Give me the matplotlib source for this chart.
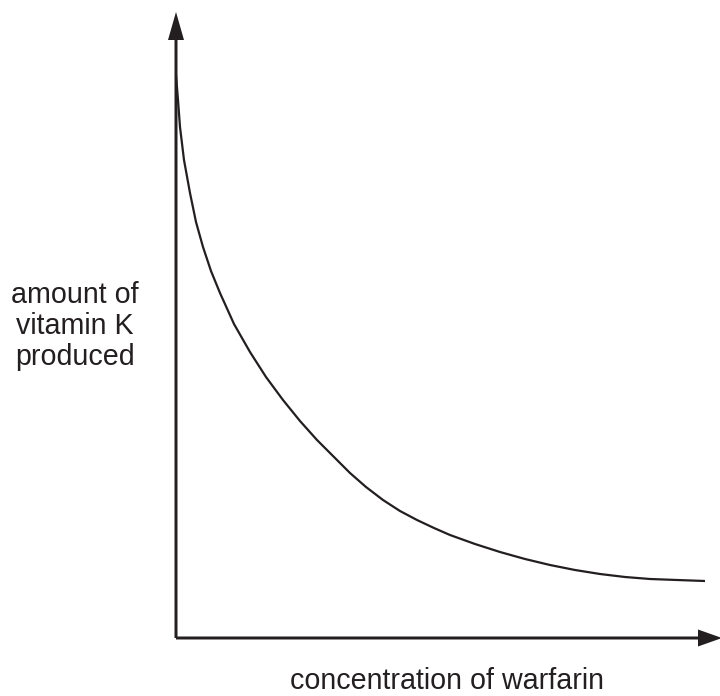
import matplotlib
matplotlib.use("Agg")
import matplotlib.pyplot as plt

# Data (arbitrary units)
warfarin = [0, 2, 4, 8, 14, 20, 27, 35, 44, 58, 74, 90, 107, 124, 141, 158, 174, 190, 207, 224, 241, 258, 274, 299, 324, 349, 374, 399, 424, 449, 474, 501, 529]
vitamin_k = [563, 538, 511, 478, 445, 416, 391, 367, 345, 314, 286, 261, 238, 217, 198, 181, 165, 151, 138, 127, 118, 110, 103, 94, 86, 79, 73, 68, 64, 61, 59, 58, 57]
x_label = "concentration of warfarin"
y_label = "amount of\nvitamin K\nproduced"

ink = "#231f20"
plt.rcParams['font.family'] = ['Liberation Sans', 'DejaVu Sans']

fig = plt.figure(figsize=(7.2, 6.96), dpi=100)
ax = fig.add_axes([0, 0, 1, 1])
ax.set_xlim(-176, 544)
ax.set_ylim(-58, 638)
ax.axis('off')

# axes arrows
ax.arrow(0, 0, 0, 626, width=3, head_width=16, head_length=28,
         length_includes_head=True, color=ink, lw=0)
ax.arrow(0, 0, 546, 0, width=3, head_width=17, head_length=24,
         length_includes_head=True, color=ink, lw=0)

ax.plot(warfarin, vitamin_k, color=ink, lw=1.6, solid_capstyle='butt')

ax.text(-101, 312, y_label, ha='center', va='center', fontsize=20.6,
        color=ink, linespacing=1.12)
ax.text(270.5, -51, x_label, ha='center', va='baseline', fontsize=20.6, color=ink)

fig.savefig("out.png", dpi=100)
